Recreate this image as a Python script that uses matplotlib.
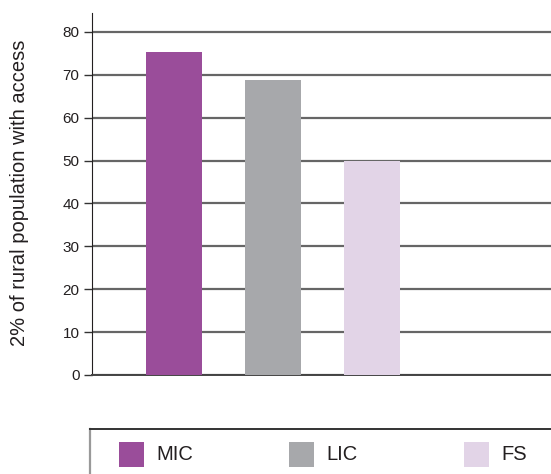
import matplotlib.pyplot as plt
from matplotlib.patches import Rectangle

plt.rcParams['font.family'] = ['Liberation Sans', 'DejaVu Sans']

# rural access by country group
groups = ["MIC", "LIC", "FS"]
values = [75.2, 68.8, 50.0]
colors = ["#9a4d9a", "#a7a8ab", "#e2d4e7"]
yticks = [0, 10, 20, 30, 40, 50, 60, 70, 80]

W, H = 551, 474
fig = plt.figure(figsize=(W / 100, H / 100), dpi=100)
ax = fig.add_axes([92 / W, 1 - 375 / H, 1 - 92 / W, (375 - 13) / H])

x = list(range(len(groups)))
ax.bar(x, values, width=0.566, color=colors, zorder=3)

ax.set_xlim(-0.828, 3.808)
ax.set_ylim(0, 84.4)
ax.set_yticks(yticks)
ax.set_xticks([])
ax.tick_params(axis="y", direction="out", length=6, width=1, color="#333333",
               labelsize=11, labelcolor="#231f20", pad=3)
ax.yaxis.grid(True, color="#666666", linewidth=1.6, zorder=0)

for s in ["top", "right"]:
    ax.spines[s].set_visible(False)
ax.spines["left"].set_color("#231f20")
ax.spines["bottom"].set_color("#444444")
ax.spines["bottom"].set_linewidth(1.4)

fig.text(20 / W, 1 - 193 / H, "2% of rural population with access",
         rotation=90, ha="center", va="center", fontsize=14.5,
         color="#231f20")

# legend box at the bottom, running off the figure edge
lax = fig.add_axes([90 / W, 0, 1 - 90 / W, (H - 429) / H])
lax.set_xlim(90, W)
lax.set_ylim(H, 429)
lax.set_xticks([])
lax.set_yticks([])
for s in ["right", "bottom"]:
    lax.spines[s].set_visible(False)
lax.spines["top"].set_color("#333333")
lax.spines["top"].set_linewidth(1.4)
lax.spines["left"].set_color("#999999")
lax.spines["left"].set_linewidth(1.6)

legend_x = [119, 289, 464]
for lx, name, c in zip(legend_x, groups, colors):
    lax.add_patch(Rectangle((lx, 442), 25, 25, facecolor=c, edgecolor="none"))
    lax.text(lx + 37, 455, name, ha="left", va="center", fontsize=14.5,
             color="#231f20")

fig.savefig("out.png", dpi=100)
